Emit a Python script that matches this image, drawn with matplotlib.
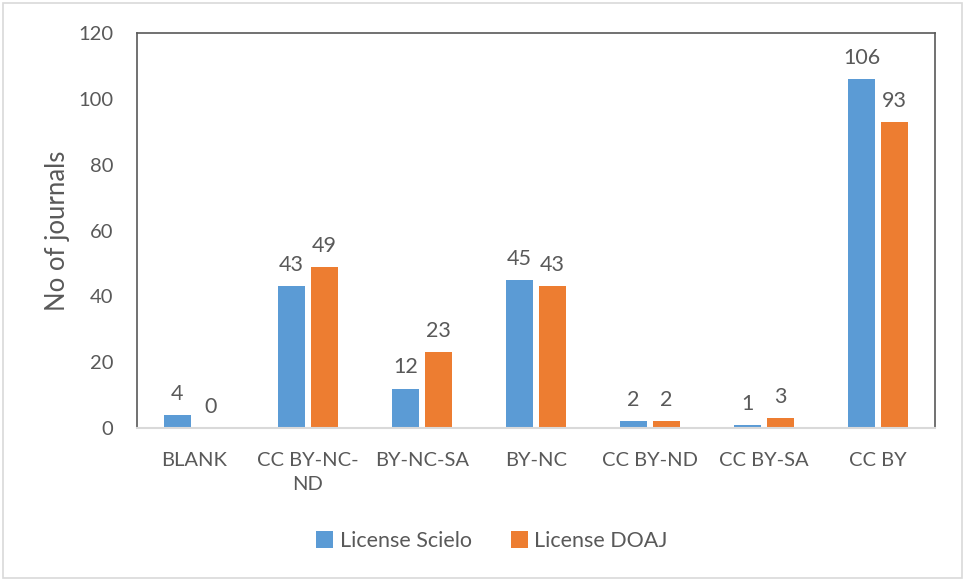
import numpy as np
import matplotlib.pyplot as plt
from matplotlib.patches import Rectangle

categories = ["BLANK", "CC BY-NC-\nND", "BY-NC-SA", "BY-NC", "CC BY-ND", "CC BY-SA", "CC BY"]
scielo = [4, 43, 12, 45, 2, 1, 106]
doaj = [0, 49, 23, 43, 2, 3, 93]

TEXT = "#595959"
BLUE = "#5b9bd5"
ORANGE = "#ed7d31"


def main():
    plt.rcParams['font.family'] = ['Lato', 'DejaVu Sans']
    fig = plt.figure(figsize=(9.65, 5.81), dpi=100)
    ax = fig.add_axes([137 / 965, 1 - 428 / 581, (935 - 137) / 965, (428 - 33) / 581])

    x = np.arange(len(categories))
    w = 0.23
    off = 0.145
    b1 = ax.bar(x - off, scielo, w, color=BLUE, label="License Scielo")
    b2 = ax.bar(x + off, doaj, w, color=ORANGE, label="License DOAJ")
    for bars in (b1, b2):
        ax.bar_label(bars, padding=8, fontsize=15.5, color=TEXT)

    ax.set_xlim(-0.5, len(categories) - 0.5)
    ax.set_ylim(0, 120)
    ax.set_yticks(range(0, 121, 20))
    ax.set_xticks(x)
    ax.set_xticklabels(categories, linespacing=1.5)
    ax.tick_params(axis='both', length=0, labelsize=14.5, labelcolor=TEXT)
    ax.tick_params(axis='x', pad=17)
    ax.tick_params(axis='y', pad=17)
    ax.set_ylabel("No of journals", fontsize=18.5, color=TEXT, labelpad=6)

    for s in ("left", "top", "right"):
        ax.spines[s].set_color("#595959")
        ax.spines[s].set_linewidth(1.2)
    ax.spines["bottom"].set_color("#d9d9d9")
    ax.spines["bottom"].set_linewidth(1.5)

    leg = fig.legend(loc="center", bbox_to_anchor=(492 / 965, 1 - 541 / 581), ncol=2,
                     frameon=False, fontsize=15.5, handlelength=0.8, handleheight=0.8,
                     columnspacing=1.8, handletextpad=0.3)
    for t in leg.get_texts():
        t.set_color(TEXT)

    fig.patches.append(Rectangle((3 / 965, 3 / 581), 959 / 965, 575 / 581,
                                 transform=fig.transFigure, fill=False,
                                 edgecolor="#d9d9d9", linewidth=1.2))

    fig.savefig("out.png", dpi=100)


if __name__ == '__main__':
    main()
